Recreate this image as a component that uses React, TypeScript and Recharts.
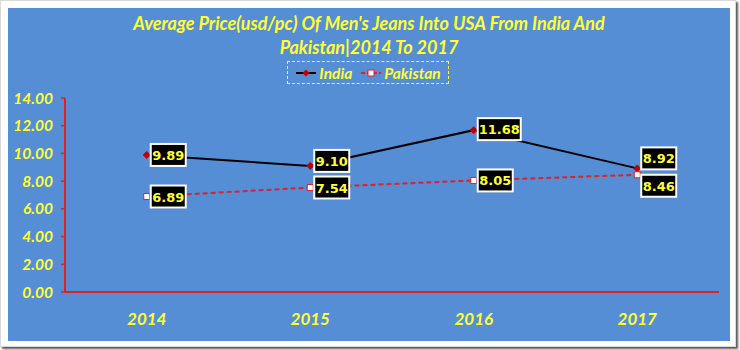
import { CartesianGrid, LabelList, Line, LineChart, XAxis, YAxis } from 'recharts'

// 연도별 평균 단가 (usd/pc)
const years = ['2014', '2015', '2016', '2017']
const india = [9.89, 9.1, 11.68, 8.92]
const pakistan = [6.89, 7.54, 8.05, 8.46]
const yTicks = [0, 2, 4, 6, 8, 10, 12, 14]

const data = years.map((year, i) => ({ year, india: india[i], pakistan: pakistan[i] }))

// 라벨 상자 세로 위치 보정 (점 기준)
const indiaLabelDy = [0, -5, -1, -10]
const pakistanLabelDy = [0, 0, 0, 11]

const BLUE = '#558ed5'
const YELLOW = '#ffff33'
const RED = '#e0202a'
const FONT = 'Lato, "Open Sans", sans-serif'

function makeLabel(dys: number[]) {
  return function ValueBox(props: any) {
    const { x, y, value, index } = props
    const text = Number(value).toFixed(2)
    const w = text.length * 8 + 3
    const h = 22
    const left = x + 4
    const cy = y + dys[index]
    return (
      <g>
        <rect x={left + 1} y={cy - h / 2 + 1} width={w} height={h} fill="rgba(0,0,0,0.25)" />
        <rect x={left} y={cy - h / 2} width={w} height={h} fill="#000" stroke="#fff" strokeWidth={2} />
        <text
          x={left + w / 2}
          y={cy + 5}
          textAnchor="middle"
          fill={YELLOW}
          fontFamily='"DejaVu Sans", sans-serif'
          fontWeight="bold"
          fontSize={13}
        >
          {text}
        </text>
      </g>
    )
  }
}

function Diamond(props: any) {
  const { cx, cy } = props
  return <path d={`M${cx},${cy - 3.5}L${cx + 3.5},${cy}L${cx},${cy + 3.5}L${cx - 3.5},${cy}Z`} fill="#c00000" stroke="#c00000" />
}

function Square(props: any) {
  const { cx, cy } = props
  return <rect x={cx - 3} y={cy - 3} width={6} height={6} fill="#fff" stroke={RED} strokeWidth={1} />
}

function LegendBox() {
  return (
    <div
      style={{
        position: 'absolute',
        left: 279,
        top: 53,
        width: 160,
        height: 21,
        border: `1.5px dashed ${YELLOW}`,
        display: 'flex',
        alignItems: 'center',
        justifyContent: 'center',
        gap: 8,
        fontFamily: FONT,
        fontStyle: 'italic',
        fontWeight: 'bold',
        fontSize: 15.5,
        color: YELLOW,
      }}
    >
      <span style={{ display: 'flex', alignItems: 'center', gap: 2 }}>
        <svg width={22} height={10}>
          <line x1={1} y1={5} x2={21} y2={5} stroke="#000" strokeWidth={2} />
          <path d="M11,1.5L14.5,5L11,8.5L7.5,5Z" fill="#c00000" />
        </svg>
        India
      </span>
      <span style={{ display: 'flex', alignItems: 'center', gap: 2 }}>
        <svg width={22} height={10}>
          <line x1={1} y1={5} x2={21} y2={5} stroke={RED} strokeWidth={2} strokeDasharray="4 2" />
          <rect x={8} y={2} width={6} height={6} fill="#fff" stroke={RED} />
        </svg>
        Pakistan
      </span>
    </div>
  )
}

export default function App() {
  return (
    <div
      style={{
        position: 'absolute',
        left: 0,
        top: 0,
        width: 734,
        height: 345,
        background: '#fff',
        border: '1px solid #d8d8d8',
        boxShadow: '2px 2px 2px #555',
      }}
    >
      <div style={{ position: 'absolute', left: 7, top: 7, width: 722, height: 333, background: BLUE }}>
        <div
          style={{
            position: 'absolute',
            left: 0,
            top: 3,
            width: 722,
            textAlign: 'center',
            fontFamily: FONT,
            fontStyle: 'italic',
            fontWeight: 'bold',
            fontSize: 18,
            lineHeight: '24px',
            color: YELLOW,
          }}
        >
          Average Price(usd/pc) Of Men's Jeans Into USA From India And
          <br />
          Pakistan|2014 To 2017
        </div>
        <LegendBox />
        <LineChart width={722} height={333} data={data} margin={{ top: 90, right: 11, bottom: 19, left: 0 }}>
          <CartesianGrid stroke="none" />
          <XAxis
            dataKey="year"
            scale="band"
            height={30}
            axisLine={{ stroke: RED, strokeWidth: 2 }}
            tickLine={false}
            tickSize={0}
            tickMargin={21}
            tick={{ fill: YELLOW, fontFamily: FONT, fontStyle: 'italic', fontWeight: 'bold', fontSize: 17 }}
          />
          <YAxis
            width={57}
            domain={[0, 14]}
            ticks={yTicks}
            tickFormatter={(v: number) => v.toFixed(2)}
            axisLine={{ stroke: RED, strokeWidth: 2 }}
            tickLine={{ stroke: RED, strokeWidth: 1.5 }}
            tickSize={4}
            tickMargin={8}
            tick={{ fill: YELLOW, fontFamily: FONT, fontStyle: 'italic', fontWeight: 'bold', fontSize: 15.5 }}
          />
          <Line
            dataKey="india"
            stroke="#000"
            strokeWidth={2}
            dot={<Diamond />}
            isAnimationActive={false}
          >
            <LabelList dataKey="india" content={makeLabel(indiaLabelDy)} />
          </Line>
          <Line
            dataKey="pakistan"
            stroke={RED}
            strokeWidth={2}
            strokeDasharray="5 3"
            dot={<Square />}
            isAnimationActive={false}
          >
            <LabelList dataKey="pakistan" content={makeLabel(pakistanLabelDy)} />
          </Line>
        </LineChart>
      </div>
    </div>
  )
}
